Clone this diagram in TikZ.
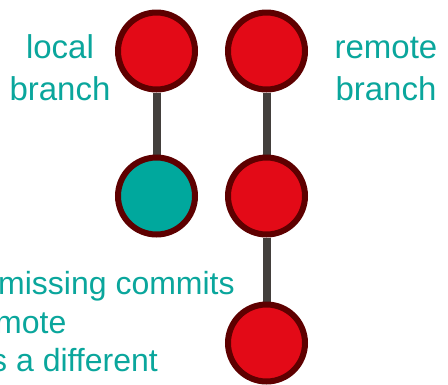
\documentclass[tikz,border=0pt]{standalone}
\usepackage{fontspec}
\setmainfont{Liberation Sans}
\usetikzlibrary{backgrounds}
\definecolor{commitred}{HTML}{E30A17}
\definecolor{commitrim}{HTML}{5E0000}
\definecolor{committeal}{HTML}{00A89D}
\definecolor{labelteal}{HTML}{0AA69C}
\definecolor{linkgray}{HTML}{433F3C}
\tikzset{
  commit/.style={circle, draw=commitrim, line width=6pt, minimum size=77pt, inner sep=0pt},
  redcommit/.style={commit, fill=commitred},
  tealcommit/.style={commit, fill=committeal},
  link/.style={draw=linkgray, line width=8pt},
  toplabel/.style={text=labelteal, font=\fontsize{33}{42}\selectfont, align=center, inner sep=0pt, anchor=base},
  notelabel/.style={text=labelteal, font=\fontsize{32}{38}\selectfont, inner sep=0pt, anchor=base west},
}
\begin{document}
\begin{tikzpicture}[x=1pt, y=-1pt]
  \useasboundingbox (0,0) rectangle (448,384);
  \clip (0,0) rectangle (448,384);
  % local branch
  \node[redcommit]  (l1) at (156.5,51)  {};
  \node[tealcommit] (l2) at (156.5,196) {};
  % remote branch
  \node[redcommit]  (r1) at (266.5,51)  {};
  \node[redcommit]  (r2) at (266.5,196) {};
  \node[redcommit]  (r3) at (266.5,343) {};
  \begin{scope}[on background layer]
    \draw[link] (l1) -- (l2);
    \draw[link] (r1) -- (r2);
    \draw[link] (r2) -- (r3);
  \end{scope}
  % labels (base anchor sits on the last line)
  \node[toplabel] (loc) at (60,100) {local\\branch};
  \node[toplabel] (rem) at (386,100) {remote\\branch};
  % note lines run off the left edge
  \node[notelabel] (n1) at (-2,294) {missing commits};
  \node[notelabel] (n2) at (-5,333) {mote};
  \node[notelabel] (n3) at (-9,371) {s a different};
\end{tikzpicture}
\end{document}
